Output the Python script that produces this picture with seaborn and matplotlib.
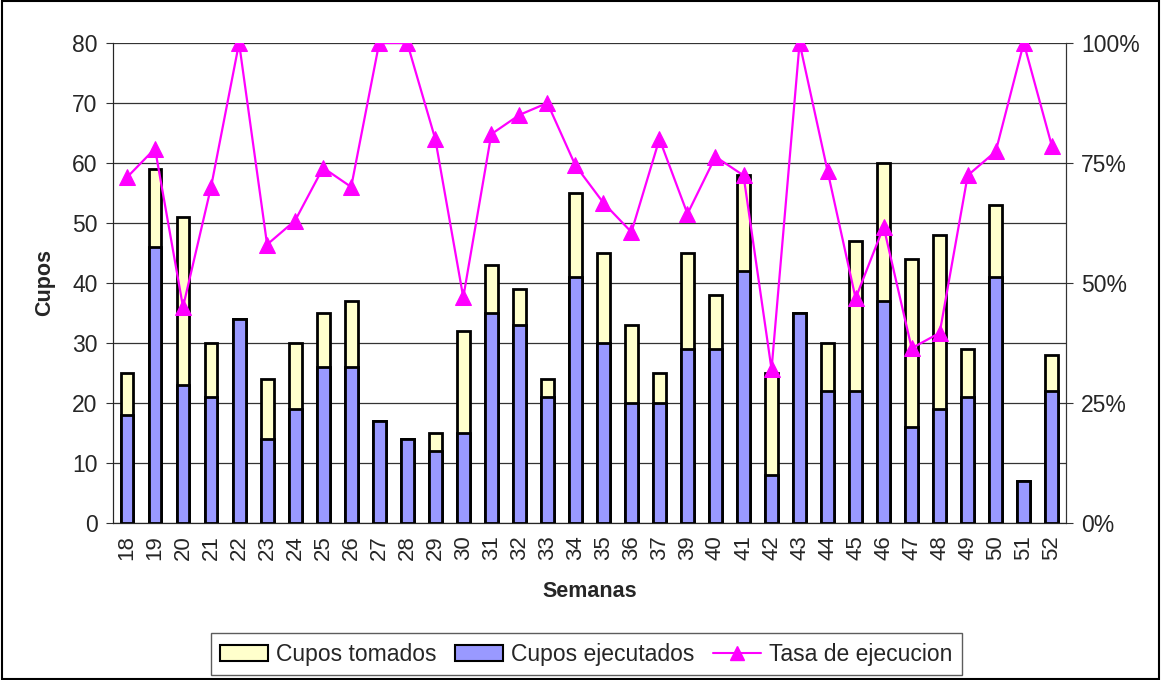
import numpy as np
import pandas as pd
import seaborn as sns
import matplotlib.pyplot as plt
from matplotlib.ticker import FixedLocator, PercentFormatter
from matplotlib.patches import Patch, Rectangle
from matplotlib.lines import Line2D

# Data
semanas = ['18', '19', '20', '21', '22', '23', '24', '25', '26', '27', '28', '29',
           '30', '31', '32', '33', '34', '35', '36', '37', '39', '40', '41', '42',
           '43', '44', '45', '46', '47', '48', '49', '50', '51', '52']
cupos_tomados = [25, 59, 51, 30, 34, 24, 30, 35, 37, 17, 14, 15, 32, 43, 39, 24, 55,
                 45, 33, 25, 45, 38, 58, 25, 35, 30, 47, 60, 44, 48, 29, 53, 7, 28]
cupos_ejecutados = [18, 46, 23, 21, 34, 14, 19, 26, 26, 17, 14, 12, 15, 35, 33, 21, 41,
                    30, 20, 20, 29, 29, 42, 8, 35, 22, 22, 37, 16, 19, 21, 41, 7, 22]
tasa_ejecucion = [0.72, 0.78, 0.45, 0.70, 1.00, 0.58, 0.63, 0.74, 0.70, 1.00, 1.00, 0.80,
                  0.47, 0.81, 0.85, 0.875, 0.745, 0.667, 0.606, 0.80, 0.644, 0.763, 0.724,
                  0.32, 1.00, 0.733, 0.468, 0.617, 0.364, 0.396, 0.724, 0.774, 1.00, 0.786]

df = pd.DataFrame({'Semana': semanas, 'Tomados': cupos_tomados,
                   'Ejecutados': cupos_ejecutados, 'Tasa': tasa_ejecucion})

sns.set_style('white')
plt.rcParams['font.family'] = ['Liberation Sans', 'DejaVu Sans']

YELLOW = '#FFFFCC'
BLUE = '#9999FF'
MAGENTA = '#FF00FF'

fig = plt.figure(figsize=(11.61, 6.80), dpi=100)
ax = fig.add_axes([0.0973, 0.231, 0.8207, 0.7058])

# Bars: total taken behind, executed in front
sns.barplot(data=df, x='Semana', y='Tomados', order=semanas, color=YELLOW,
            saturation=1, edgecolor='black', linewidth=2, width=0.46, ax=ax)
sns.barplot(data=df, x='Semana', y='Ejecutados', order=semanas, color=BLUE,
            saturation=1, edgecolor='black', linewidth=2, width=0.46, ax=ax)

n = len(semanas)
ax.set_xlim(-0.5, n - 0.5)
ax.set_ylim(0, 80)
ax.set_yticks(range(0, 81, 10))
ax.yaxis.grid(True, color='#333333', linewidth=0.9)
ax.set_axisbelow(True)

ax.set_xticks(np.arange(n))
ax.set_xticklabels(semanas, rotation=90, fontsize=16)
ax.xaxis.set_minor_locator(FixedLocator(np.arange(n + 1) - 0.5))
ax.tick_params(axis='x', which='major', length=0, pad=9)
ax.tick_params(axis='x', which='minor', length=5, direction='out', color='#333333')
ax.tick_params(axis='y', length=5, direction='out', labelsize=16.5, color='#333333', pad=6)
ax.tick_params(bottom=True, left=True)

ax.set_xlabel('Semanas', fontsize=15.5, fontweight='bold', labelpad=15)
ax.set_ylabel('Cupos', fontsize=15.5, fontweight='bold', labelpad=12)

ax.spines['top'].set_visible(False)
ax.spines['left'].set_color('#333333')
ax.spines['bottom'].set_color('black')

# Execution rate on secondary axis
ax2 = ax.twinx()
sns.lineplot(x=np.arange(n), y=tasa_ejecucion, ax=ax2, color=MAGENTA, linewidth=1.6,
             marker='^', markersize=11, markeredgecolor=MAGENTA, markerfacecolor=MAGENTA)
ax2.set_ylim(0, 1)
ax2.yaxis.set_major_locator(FixedLocator([0, 0.25, 0.5, 0.75, 1.0]))
ax2.yaxis.set_major_formatter(PercentFormatter(1.0, decimals=0))
ax2.tick_params(axis='y', length=5, direction='out', labelsize=16.5, color='#333333', pad=6)
ax2.tick_params(right=True)
ax2.spines['top'].set_visible(False)
ax2.spines['right'].set_color('#333333')
ax2.set_xlim(-0.5, n - 0.5)

handles = [
    Patch(facecolor=YELLOW, edgecolor='black', linewidth=1.5, label='Cupos tomados'),
    Patch(facecolor=BLUE, edgecolor='black', linewidth=1.5, label='Cupos ejecutados'),
    Line2D([0], [0], color=MAGENTA, linewidth=1.5, marker='^', markersize=10,
           label='Tasa de ejecucion'),
]
leg = fig.legend(handles=handles, loc='center', bbox_to_anchor=(0.505, 0.038), ncol=3,
                 fontsize=16.5, frameon=True, fancybox=False, edgecolor='#333333',
                 handlelength=2.1, handletextpad=0.35, columnspacing=0.8,
                 borderpad=0.4)
leg.get_frame().set_linewidth(1.0)

fig.patches.append(Rectangle((0.002, 0.002), 0.996, 0.996, transform=fig.transFigure,
                             fill=False, edgecolor='black', linewidth=1.5))

fig.savefig('out.png', dpi=100)
